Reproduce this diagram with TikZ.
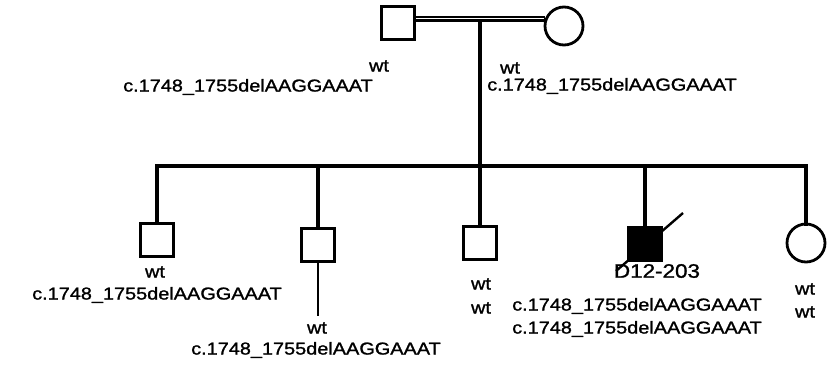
\documentclass[tikz,border=0pt]{standalone}
\usepackage{fontspec}
\setmainfont{Liberation Sans}[FakeStretch=1.15,FakeBold=1.3]
\begin{document}
\begin{tikzpicture}[x=1pt,y=-1pt,
  male/.style={draw,line width=3.2pt,minimum size=33pt,inner sep=0pt,outer sep=0pt},
  female/.style={circle,draw,line width=2.8pt,minimum size=38pt,inner sep=0pt,outer sep=0pt},
  lbl/.style={font=\fontsize{17.3}{19}\selectfont,inner sep=0pt,text=black},
  ln/.style={line width=3.2pt},
  thin/.style={line width=1.5pt}]
\useasboundingbox (0,0) rectangle (830,365);
% parents
\node[male] (f) at (398,23) {};
\node[female] (m) at (564,26) {};
\draw[line width=6pt] (f.east |- 0,18.5) -- (m.west |- 0,18.5);
\draw[white,line width=1.8pt] ([xshift=1.6pt]f.east |- 0,18.5) -- ([xshift=-1.4pt]m.west |- 0,18.5);
\coordinate (d) at (480,21.5);
\coordinate (s) at (480,166);
\draw[ln] (d) -- (s);
% children
\node[male] (c1) at (157,240) {};
\node[male] (c2) at (318,245) {};
\node[male] (c3) at (480,243) {};
\node[male,fill=black] (c4) at (645,244) {};
\node[female] (c5) at (806,243) {};
\coordinate (sl) at (157,166);
\draw[ln,line cap=rect] (c1.north) -- (sl) -- (c5.north |- sl) -- (c5.north);
\draw[ln] (c2.north) -- (c2.north |- sl);
\draw[ln] (c3.north) -- (s);
\draw[ln] (c4.north) -- (c4.north |- sl);
\coordinate (c2b) at (318,316);
\draw[thin] (c2.south) -- (c2b);
\coordinate (dA) at (616,271);
\coordinate (dB) at (683,213);
\draw[line width=2.4pt] (dA) -- (dB);
% labels
\node[lbl] (fw) at (379,66) {wt};
\node[lbl] (fg) at (248,87) {c.1748\_1755delAAGGAAAT};
\node[lbl] (mw) at (510,68) {wt};
\node[lbl] (mg) at (612,86) {c.1748\_1755delAAGGAAAT};
\node[lbl] (c1w) at (155,272) {wt};
\node[lbl] (c1g) at (157,295) {c.1748\_1755delAAGGAAAT};
\node[lbl] (c2w) at (317,328) {wt};
\node[lbl] (c2g) at (316,350) {c.1748\_1755delAAGGAAAT};
\node[lbl] (c3w) at (481,284) {wt};
\node[lbl] (c3v) at (481,308) {wt};
\node[lbl,font=\fontsize{19.5}{21}\selectfont] (c4n) at (657,271) {D12-203};
\node[lbl] (c4g) at (637,306) {c.1748\_1755delAAGGAAAT};
\node[lbl] (c4h) at (637,329) {c.1748\_1755delAAGGAAAT};
\node[lbl] (c5w) at (805,289) {wt};
\node[lbl] (c5v) at (805,312) {wt};
\end{tikzpicture}
\end{document}
